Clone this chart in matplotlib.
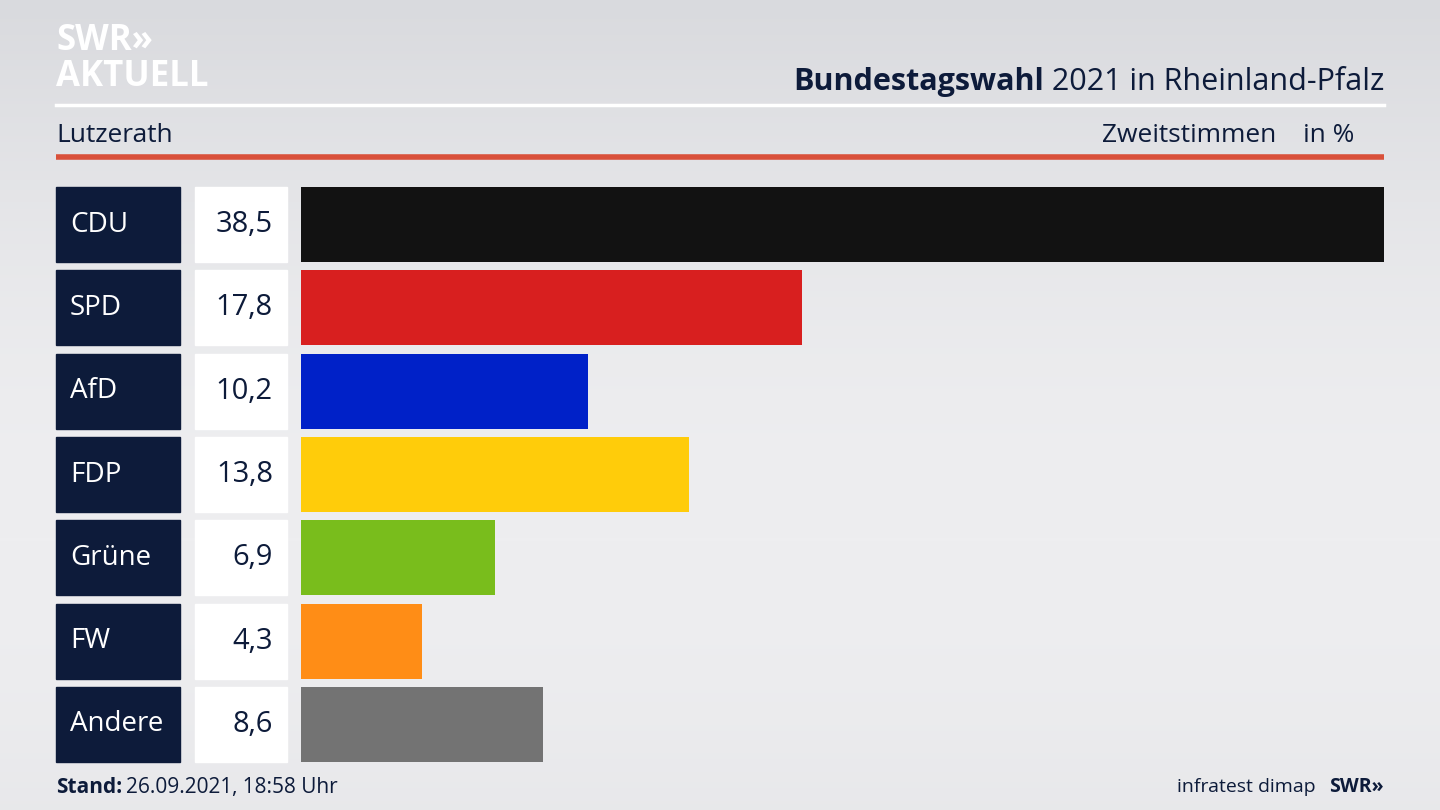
import matplotlib
matplotlib.use("Agg")
import matplotlib.pyplot as plt
import numpy as np
from matplotlib.patches import Rectangle
import matplotlib.transforms as mtrans

parties = ["CDU", "SPD", "AfD", "FDP", "Grüne", "FW", "Andere"]
values = [38.5, 17.8, 10.2, 13.8, 6.9, 4.3, 8.6]
value_labels = ["38,5", "17,8", "10,2", "13,8", "6,9", "4,3", "8,6"]
colors = ["#121212", "#d81f1f", "#0021c8", "#ffcc0a", "#79bd1c", "#ff8d16", "#737373"]

W, H = 1440, 810
NAVY = "#0d1b3a"
FONT = "Open Sans"
plt.rcParams["font.family"] = FONT

fig = plt.figure(figsize=(W/100, H/100), dpi=100)
bg = fig.add_axes([0, 0, 1, 1])
grad = np.linspace(0, 1, 256).reshape(-1, 1)
c1 = np.array([0xd9, 0xda, 0xde]) / 255
c2 = np.array([0xee, 0xee, 0xf0]) / 255
t = np.sin(grad * np.pi * 0.75)
img = (c1[None, None, :] * (1 - t[:, :, None]) + c2[None, None, :] * t[:, :, None])
bg.imshow(img, aspect="auto", extent=[0, W, H, 0])
bg.set_xlim(0, W); bg.set_ylim(H, 0); bg.axis("off")

# header
bg.text(56, 50, "SWR»", color="white", fontsize=25, fontweight="bold", va="baseline")
bg.text(56, 86, "AKTUELL", color="white", fontsize=25, fontweight="bold", va="baseline")
t2 = bg.text(1384, 90, " 2021 in Rheinland-Pfalz", color=NAVY, fontsize=22, ha="right", va="baseline")
fig.canvas.draw()
bb = t2.get_window_extent()
bg.text(bb.x0 * W / fig.bbox.width, 90, "Bundestagswahl", color=NAVY, fontsize=22,
        fontweight="bold", ha="right", va="baseline")
bg.plot([56, 1384], [105, 105], color="white", lw=2.5)
bg.text(56, 142, "Lutzerath", color=NAVY, fontsize=19, va="baseline")
bg.text(1276, 142, "Zweitstimmen", color=NAVY, fontsize=19, ha="right", va="baseline")
bg.text(1354, 142, "in %", color=NAVY, fontsize=19, ha="right", va="baseline")
bg.plot([56, 1384], [157, 157], color="#d9503a", lw=4, solid_capstyle="butt")
# footer
bg.text(56, 793, "Stand:", color=NAVY, fontsize=15, fontweight="bold", va="baseline")
bg.text(126, 793, "26.09.2021, 18:58 Uhr", color=NAVY, fontsize=15, va="baseline")
bg.text(1316, 792, "infratest dimap", color=NAVY, fontsize=14, ha="right", va="baseline")
bg.text(1384, 792, "SWR»", color=NAVY, fontsize=14, fontweight="bold", ha="right", va="baseline")

# bars axes
x0, x1 = 301, 1384
top, bottom = 183, 766
ax = fig.add_axes([x0 / W, 1 - bottom / H, (x1 - x0) / W, (bottom - top) / H])
ax.set_xlim(0, values[0])
n = len(parties)
ax.set_ylim(n - 0.5, -0.5)
ax.axis("off")
ypos = np.arange(n)
ax.barh(ypos, values, height=0.9, color=colors)
tr = mtrans.blended_transform_factory(bg.transData, ax.transData)
for i, (p, v) in enumerate(zip(parties, value_labels)):
    ax.add_patch(Rectangle((56, i - 0.45), 124, 0.9, transform=tr, color=NAVY, clip_on=False))
    ax.add_patch(Rectangle((195, i - 0.45), 92, 0.9, transform=tr, color="white", clip_on=False))
    ax.text(70, i, p, transform=tr, color="white", fontsize=20, va="center")
    ax.text(273, i, v, transform=tr, color=NAVY, fontsize=21, va="center", ha="right")

fig.savefig("out.png", dpi=100)
